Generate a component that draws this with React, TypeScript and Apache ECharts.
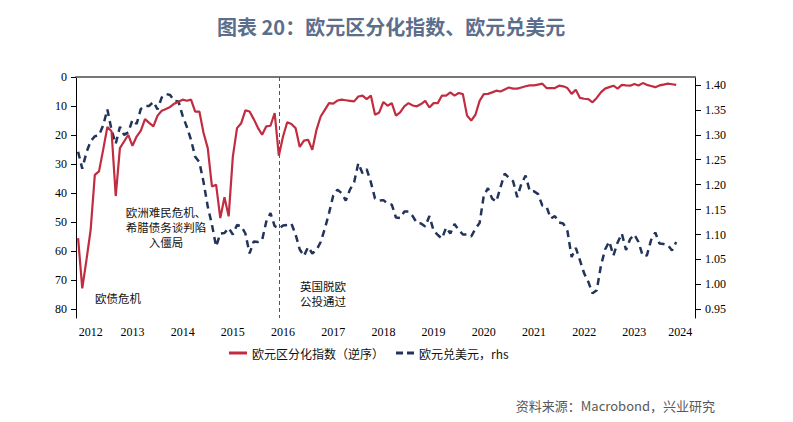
import * as echarts from "echarts";
import { useEffect, useRef } from "react";

// 月度类目：2012-06 ~ 2024-09
const months: string[] = [];
for (let y = 2012; y <= 2024; y++) {
  for (let m = 1; m <= 12; m++) {
    if ((y === 2012 && m < 6) || (y === 2024 && m > 9)) continue;
    months.push(`${y}-${String(m).padStart(2, "0")}`);
  }
}

// 欧元区分化指数（左轴，逆序），2012-06 ~ 2024-05
const divergence = [
  55.5, 72.8, 63, 52.7, 33.7, 32.5, 25,
  17.2, 18.7, 41, 24.5, 22.2, 19.9, 23.7, 20.5, 18.5, 14.5, 15.8, 17,
  13.3, 11.6, 11, 10.3, 9.2, 8.5, 7.8, 8.2, 7.8, 11.9, 11.9, 19.3,
  24.5, 37.7, 37.1, 48.6, 41.4, 48, 27.4, 17.6, 15.9, 11.5, 11.9, 14.5,
  17.5, 19.9, 17, 16.8, 12.4, 27.1, 20.5, 15.6, 16.2, 17.6, 24.1, 21.9,
  21.6, 25.1, 18.2, 13.6, 11.3, 9, 9.2, 8.1, 7.8, 8, 8.2, 8.4,
  6.7, 6.4, 7.6, 6.4, 13, 12.2, 8.6, 9.9, 9, 13.3, 12.2, 10.1,
  9, 9.8, 10.1, 9.3, 8.2, 10.5, 9, 9, 6.4, 6.4, 5.3, 6.4,
  5.5, 5.9, 13.3, 15, 13, 8.2, 5.9, 5.8, 5.3, 4.7, 5, 4.3,
  3.6, 4, 4, 3.6, 3.2, 2.9, 2.9, 2.6, 2.3, 3.8, 3.8, 3.8,
  3, 3.2, 3.8, 5.8, 4.4, 7.2, 7.5, 7.6, 8.7, 7.2, 5.3, 4,
  3.5, 3, 4, 2.7, 2.9, 3, 2.4, 2.9, 2.1, 2.7, 3.1, 3.5,
  2.9, 2.6, 2.3, 2.5, 2.7,
];

// 欧元兑美元（右轴），2012-06 ~ 2024-05
const eurusd = [
  1.266, 1.232, 1.265, 1.287, 1.297, 1.299, 1.319,
  1.351, 1.31, 1.282, 1.316, 1.3, 1.305, 1.33, 1.322, 1.352, 1.358, 1.358, 1.366,
  1.351, 1.375, 1.382, 1.38, 1.368, 1.367, 1.338, 1.316, 1.29, 1.256, 1.245, 1.205,
  1.156, 1.12, 1.076, 1.102, 1.103, 1.113, 1.1, 1.119, 1.117, 1.102, 1.062, 1.086,
  1.085, 1.089, 1.126, 1.143, 1.117, 1.112, 1.118, 1.119, 1.122, 1.1, 1.07, 1.057,
  1.075, 1.062, 1.069, 1.085, 1.112, 1.143, 1.178, 1.19, 1.183, 1.168, 1.19, 1.205,
  1.243, 1.223, 1.231, 1.205, 1.172, 1.168, 1.169, 1.162, 1.16, 1.134, 1.133, 1.146,
  1.146, 1.137, 1.123, 1.122, 1.116, 1.137, 1.108, 1.099, 1.092, 1.114, 1.102, 1.121,
  1.109, 1.1, 1.1, 1.096, 1.112, 1.123, 1.178, 1.193, 1.172, 1.166, 1.195, 1.222,
  1.214, 1.207, 1.175, 1.202, 1.218, 1.187, 1.187, 1.181, 1.158, 1.156, 1.132, 1.137,
  1.124, 1.122, 1.107, 1.055, 1.073, 1.048, 1.022, 1.005, 0.982, 0.988, 1.037, 1.07,
  1.086, 1.058, 1.084, 1.102, 1.069, 1.091, 1.1, 1.085, 1.057, 1.058, 1.089, 1.104,
  1.082, 1.081, 1.079, 1.068, 1.085,
];

const leftTicks = [0, 10, 20, 30, 40, 50, 60, 70, 80];
const rightTicks = [0.95, 1.0, 1.05, 1.1, 1.15, 1.2, 1.25, 1.3, 1.35, 1.4];
const yearLabelMonths = ["2012-09", "2013-07", "2014-07", "2015-07", "2016-07", "2017-07", "2018-07",
  "2019-07", "2020-07", "2021-07", "2022-07", "2023-07", "2024-06"];
const brexitMonth = "2016-06";

const seriesNames = ["欧元区分化指数（逆序）", "欧元兑美元，rhs"];
const refugeeNote = ["欧洲难民危机、", "希腊债务谈判陷", "入僵局"];
const brexitNote = ["英国脱欧", "公投通过"];

const RED = "#c12c40";
const NAVY = "#22345a";
const CJK = "'Noto Sans CJK SC', sans-serif";
const SERIF = "'Liberation Serif', 'Times New Roman', serif";

const noteText = (text: string, x: number, y: number, align: string) => ({
  type: "text",
  x,
  y,
  style: {
    text,
    font: `11.5px ${CJK}`,
    fill: "#111",
    textAlign: align,
    textVerticalAlign: "middle",
  },
});

const App = () => {
  const chartRef = useRef<HTMLDivElement>(null);

  useEffect(() => {
    document.body.style.margin = "0";
    const myChart = echarts.init(chartRef.current, null, { renderer: "svg" });
    const option: echarts.EChartsOption = {
      animation: false,
      backgroundColor: "#ffffff",
      title: {
        text: "图表 20：欧元区分化指数、欧元兑美元",
        left: 212,
        top: 11,
        textStyle: {
          fontFamily: CJK,
          fontSize: 20,
          fontWeight: "bold",
          color: "#5b6e8b",
        },
      },
      grid: { left: 76, right: 98, top: 77, bottom: 104 },
      legend: {
        left: 224,
        top: 342,
        itemWidth: 18,
        itemHeight: 3,
        itemGap: 12,
        data: [
          { name: seriesNames[0], icon: "rect" },
          { name: seriesNames[1], icon: "path://M0,0h7v3h-7z M11,0h7v3h-7z" },
        ],
        textStyle: { fontFamily: CJK, fontSize: 12, color: "#111" },
      },
      xAxis: {
        type: "category",
        data: months,
        boundaryGap: true,
        axisLine: { lineStyle: { color: "#777", width: 2 } },
        axisTick: {
          length: 5,
          interval: (index: number, value: string) => value.endsWith("-01"),
          lineStyle: { color: "#000" },
        },
        axisLabel: {
          interval: (index: number, value: string) => yearLabelMonths.includes(value),
          formatter: (value: string) => value.slice(0, 4),
          fontFamily: SERIF,
          fontSize: 12,
          color: "#000",
          margin: 8,
        },
        splitLine: { show: false },
      },
      yAxis: [
        {
          type: "value",
          inverse: true,
          min: 0,
          max: 83,
          position: "left",
          axisLine: { show: true, lineStyle: { color: "#000", width: 1 } },
          axisTick: { show: true, length: 5, customValues: leftTicks, lineStyle: { color: "#000" } },
          axisLabel: {
            customValues: leftTicks,
            fontFamily: SERIF,
            fontSize: 12,
            color: "#000",
            margin: 9,
          },
          splitLine: { show: false },
        },
        {
          type: "value",
          min: 0.9325,
          max: 1.416,
          position: "right",
          axisLine: { show: true, lineStyle: { color: "#000", width: 1 } },
          axisTick: { show: true, length: 6, customValues: rightTicks, lineStyle: { color: "#000" } },
          axisLabel: {
            customValues: rightTicks,
            formatter: (v: number) => v.toFixed(2),
            fontFamily: SERIF,
            fontSize: 12,
            color: "#000",
            margin: 10,
          },
          splitLine: { show: false },
        },
      ],
      series: [
        {
          name: seriesNames[1],
          type: "line",
          yAxisIndex: 1,
          data: eurusd,
          symbol: "none",
          lineStyle: { color: NAVY, width: 2.5, type: [7, 5] },
          itemStyle: { color: NAVY },
        },
        {
          name: seriesNames[0],
          type: "line",
          yAxisIndex: 0,
          data: divergence,
          symbol: "none",
          lineStyle: { color: RED, width: 2.2 },
          itemStyle: { color: RED },
          markLine: {
            silent: true,
            symbol: ["none", "none"],
            label: { show: false },
            lineStyle: { color: "#555", width: 1, type: [4, 3] },
            data: [{ xAxis: brexitMonth }],
          },
        },
      ],
      graphic: [
        noteText("欧债危机", 95, 298, "left"),
        ...refugeeNote.map((t, k) => noteText(t, 166, 212 + k * 15, "center")),
        ...brexitNote.map((t, k) => noteText(t, 300, 286 + k * 15, "left")),
        {
          type: "text",
          x: 715,
          y: 405,
          style: {
            text: "资料来源：Macrobond，兴业研究",
            font: `13px ${CJK}`,
            fill: "#595959",
            textAlign: "right",
            textVerticalAlign: "middle",
          },
        },
      ],
    };
    myChart.setOption(option);
    return () => {
      myChart.dispose();
    };
  }, []);

  return <div ref={chartRef} style={{ width: "793px", height: "422px" }} />;
};

export default App;
